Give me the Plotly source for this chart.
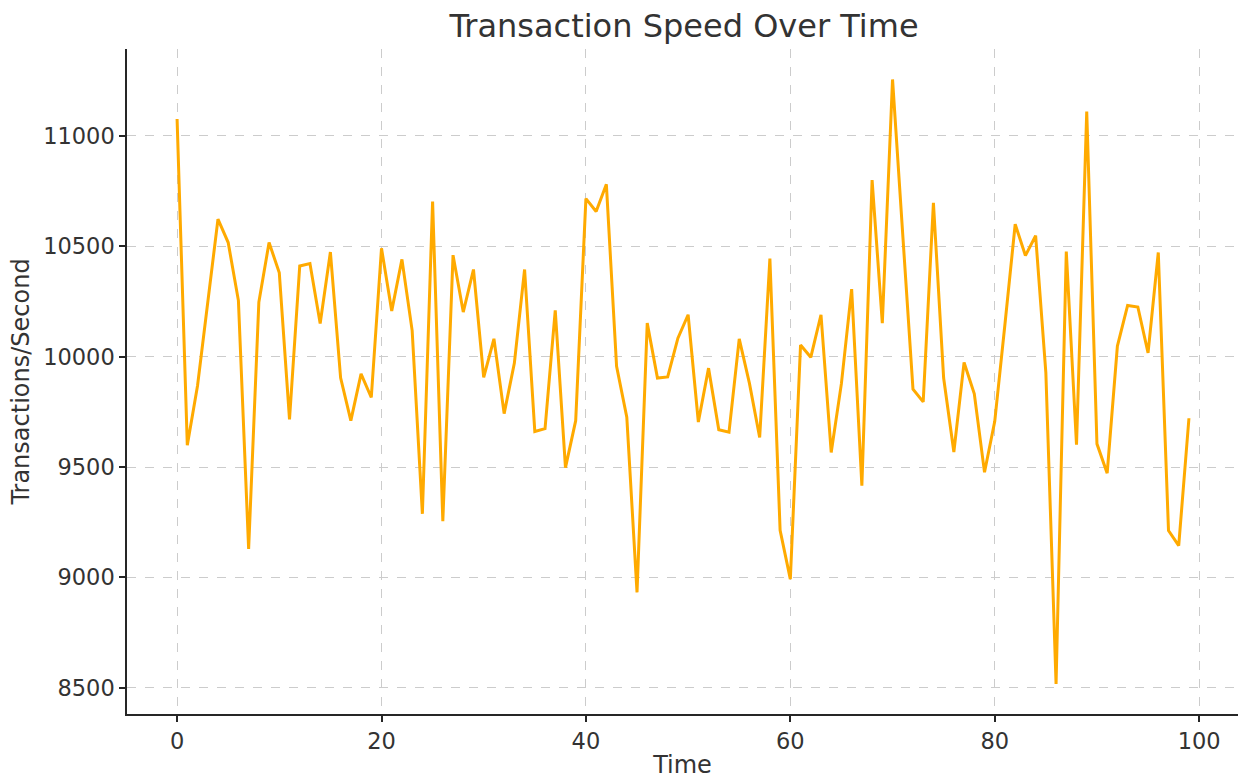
import plotly.graph_objects as go

time = list(range(100))
tps = [
    11077, 9599, 9868, 10258, 10623, 10517, 10254, 9129, 10247, 10517,
    10380, 9716, 10411, 10422, 10150, 10474, 9904, 9710, 9922, 9815,
    10491, 10207, 10441, 10118, 9288, 10703, 9255, 10460, 10202, 10395,
    9906, 10081, 9742, 9971, 10395, 9661, 9674, 10210, 9497, 9710,
    10716, 10658, 10781, 9956, 9726, 8932, 10152, 9903, 9908, 10084,
    10190, 9704, 9948, 9669, 9658, 10081, 9879, 9634, 10444, 9213,
    8992, 10053, 9997, 10190, 9566, 9879, 10306, 9415, 10800, 10152,
    11256, 10552, 9853, 9795, 10697, 9903, 9568, 9974, 9832, 9476,
    9707, 10148, 10600, 10458, 10548, 9928, 8517, 10476, 9601, 11111,
    9605, 9472, 10048, 10232, 10225, 10017, 10472, 9212, 9144, 9721,
]
x_ticks = [0, 20, 40, 60, 80, 100]
y_ticks = [8500, 9000, 9500, 10000, 10500, 11000]

font_family = "DejaVu Sans, Verdana, sans-serif"
text_color = "#333333"

fig = go.Figure()
fig.add_trace(go.Scatter(
    x=time, y=tps, mode="lines",
    line=dict(color="#FFAA00", width=3),
    showlegend=False, hoverinfo="x+y",
))

axis_common = dict(
    showline=True, linecolor="#262626", linewidth=1.5,
    ticks="outside", ticklen=6, tickwidth=1.5, tickcolor="#262626",
    showgrid=True, gridcolor="#cccccc", griddash="dash", gridwidth=1,
    zeroline=False, mirror=False,
    tickfont=dict(family=font_family, size=22.5, color=text_color),
)

fig.update_layout(
    width=1238, height=779,
    paper_bgcolor="white", plot_bgcolor="white",
    margin=dict(l=127, r=0, t=49, b=65, autoexpand=False),
    title=dict(
        text="Transaction Speed Over Time",
        x=0.5525, xanchor="center", y=0.967, yanchor="middle",
        font=dict(family=font_family, size=32, color=text_color),
    ),
    xaxis=dict(
        range=[-4.9, 103.8], tickmode="array", tickvals=x_ticks,
        ticktext=[str(v) for v in x_ticks],
        title=dict(text="Time", standoff=5,
                   font=dict(family=font_family, size=24, color=text_color)),
        **axis_common,
    ),
    yaxis=dict(
        range=[8381, 11394], tickmode="array", tickvals=y_ticks,
        ticktext=[str(v) for v in y_ticks],
        title=dict(text="Transactions/Second", standoff=7,
                   font=dict(family=font_family, size=24, color=text_color)),
        **axis_common,
    ),
)

fig.write_html("out.html", config={"displayModeBar": False},
               post_script="document.body.style.margin='0';")
